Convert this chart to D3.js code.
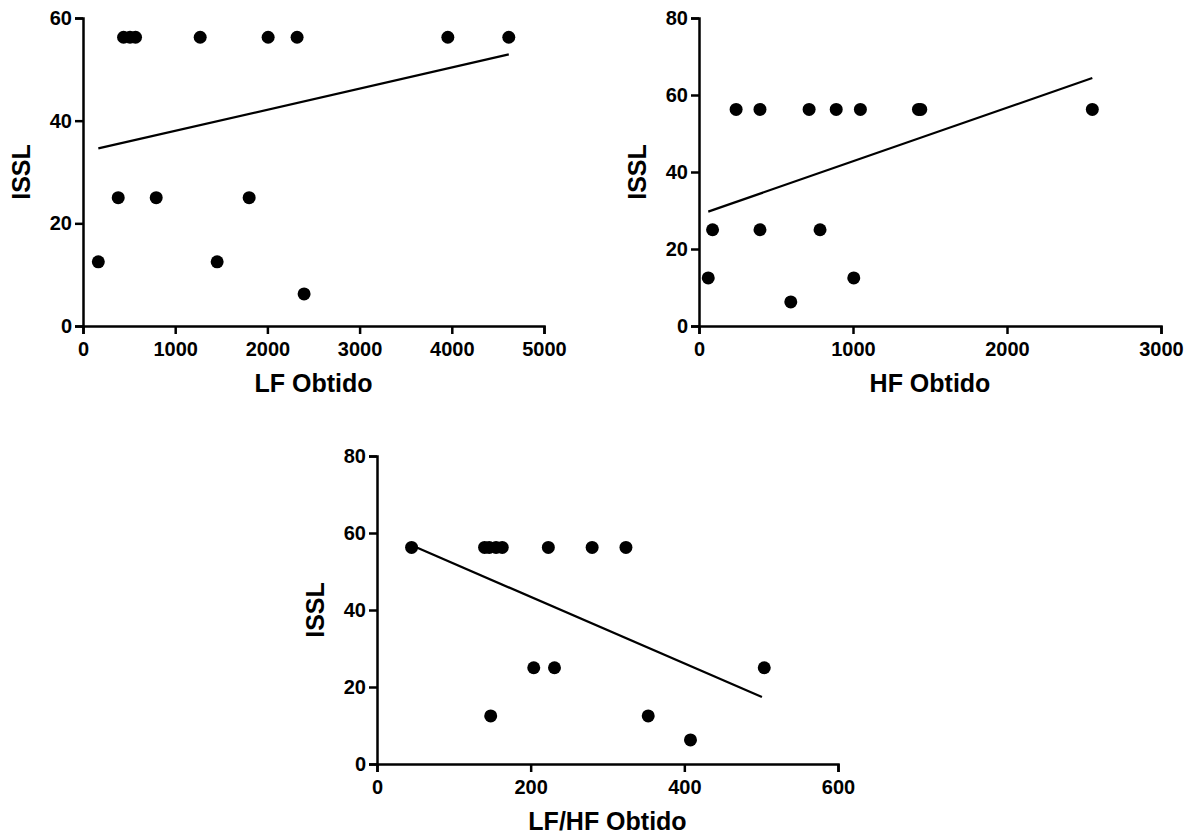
<!DOCTYPE html>
<html>
<head>
<meta charset="utf-8">
<script src="https://cdn.jsdelivr.net/npm/d3@7"></script>
<style>
  html, body { margin: 0; padding: 0; background: #fff; }
  text { font-family: Arial, "Liberation Sans", sans-serif; font-weight: bold; fill: #000; }
</style>
</head>
<body>
<div id="chart"></div>
<script>
// ISSL against LF, HF and LF/HF
var lfX = [166, 382, 440, 510, 570, 794, 1271, 1455, 1802, 2008, 2322, 2398, 3957, 4618];
var lfY = [12.5, 25, 56.25, 56.25, 56.25, 25, 56.25, 12.5, 25, 56.25, 56.25, 6.25, 56.25, 56.25];
var lfFit = [[166, 34.6], [4618, 52.9]];

var hfX = [60, 88, 241, 396, 396, 596, 715, 786, 891, 1005, 1048, 1425, 1440, 2554];
var hfY = [12.5, 25, 56.25, 56.25, 25, 6.25, 56.25, 25, 56.25, 12.5, 56.25, 56.25, 56.25, 56.25];
var hfFit = [[60, 29.7], [2554, 64.4]];

var ratioX = [45, 140, 146, 148, 155, 163, 204, 223, 231, 280, 324, 353, 408, 504];
var ratioY = [56.25, 56.25, 56.25, 12.5, 56.25, 56.25, 25, 56.25, 25, 56.25, 56.25, 12.5, 6.25, 25];
var ratioFit = [[45, 56.8], [501, 17.4]];

var lfTicks = [0, 1000, 2000, 3000, 4000, 5000];
var hfTicks = [0, 1000, 2000, 3000];
var ratioTicks = [0, 200, 400, 600];
var issl60Ticks = [0, 20, 40, 60];
var issl80Ticks = [0, 20, 40, 60, 80];

var panels = [
  { xs: lfX, ys: lfY, fit: lfFit, xTicks: lfTicks, yTicks: issl60Ticks, xTitle: 'LF Obtido',
    left: 83, right: 544, top: 18, bottom: 326 },
  { xs: hfX, ys: hfY, fit: hfFit, xTicks: hfTicks, yTicks: issl80Ticks, xTitle: 'HF Obtido',
    left: 699, right: 1161, top: 18, bottom: 326 },
  { xs: ratioX, ys: ratioY, fit: ratioFit, xTicks: ratioTicks, yTicks: issl80Ticks, xTitle: 'LF/HF Obtido',
    left: 377, right: 838, top: 456, bottom: 764 }
];

var svg = d3.select('#chart').append('svg')
  .attr('width', 1197).attr('height', 836);

panels.forEach(function(p) {
  var x = d3.scaleLinear()
    .domain([p.xTicks[0], p.xTicks[p.xTicks.length - 1]])
    .range([p.left, p.right]);
  var y = d3.scaleLinear()
    .domain([p.yTicks[0], p.yTicks[p.yTicks.length - 1]])
    .range([p.bottom, p.top]);

  var g = svg.append('g');

  // x axis
  var xa = g.append('g')
    .attr('transform', 'translate(0,' + p.bottom + ')')
    .call(d3.axisBottom(x).tickValues(p.xTicks).tickFormat(d3.format('d')).tickSizeOuter(0).tickSize(8).tickPadding(8));

  // y axis
  var ya = g.append('g')
    .attr('transform', 'translate(' + p.left + ',0)')
    .call(d3.axisLeft(y).tickValues(p.yTicks).tickFormat(d3.format('d')).tickSizeOuter(0).tickSize(8).tickPadding(3));

  [xa, ya].forEach(function(a) {
    a.select('.domain').attr('stroke', '#000').attr('stroke-width', 2.5);
    a.selectAll('.tick line').attr('stroke', '#000').attr('stroke-width', 2.5);
    a.selectAll('.tick text').style('font-size', '20px').attr('fill', '#000');
  });

  // fit line
  g.append('path')
    .datum(p.fit)
    .attr('fill', 'none')
    .attr('stroke', '#000')
    .attr('stroke-width', 2.2)
    .attr('d', d3.line().x(function(d) { return x(d[0]); }).y(function(d) { return y(d[1]); }));

  // points
  g.selectAll('circle.pt')
    .data(p.xs.map(function(v, i) { return [v, p.ys[i]]; }))
    .enter().append('circle')
    .attr('class', 'pt')
    .attr('cx', function(d) { return x(d[0]); })
    .attr('cy', function(d) { return y(d[1]); })
    .attr('r', 6.5)
    .attr('fill', '#000');

  // axis titles
  g.append('text')
    .attr('x', (p.left + p.right) / 2)
    .attr('y', p.bottom + 66)
    .attr('text-anchor', 'middle')
    .style('font-size', '25px')
    .text(p.xTitle);

  g.append('text')
    .attr('transform', 'translate(' + (p.left - 53) + ',' + ((p.top + p.bottom) / 2) + ') rotate(-90)')
    .attr('text-anchor', 'middle')
    .style('font-size', '25px')
    .text('ISSL');
});
</script>
</body>
</html>
